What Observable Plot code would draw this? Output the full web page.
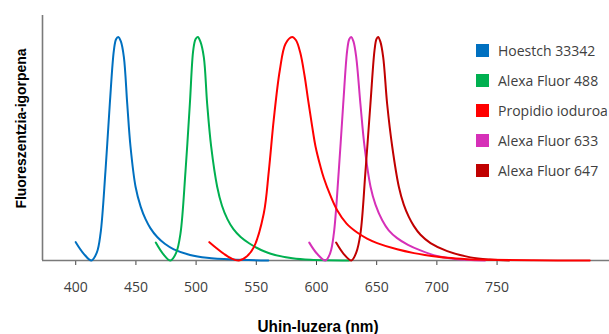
<!DOCTYPE html>
<html>
<head>
<meta charset="utf-8">
<script src="https://cdn.jsdelivr.net/npm/d3@7"></script>
<script src="https://cdn.jsdelivr.net/npm/@observablehq/plot@0.6"></script>
<style>
  html, body { margin: 0; padding: 0; background: #fff; }
  #wrap { position: relative; width: 609px; height: 334px; }
  #legend { position: absolute; left: 476px; top: 36px; font-family: "Open Sans", sans-serif; font-size: 14px; color: #404040; }
  .row { height: 29.8px; display: flex; align-items: center; white-space: nowrap; }
  .sw { width: 13px; height: 13px; margin-right: 9px; flex: none; }
</style>
</head>
<body>
<div id="wrap"><div id="legend"></div></div>
<script>
const seriesNames = ["Hoestch 33342", "Alexa Fluor 488", "Propidio ioduroa", "Alexa Fluor 633", "Alexa Fluor 647"];
const seriesColors = ["#0070C0", "#00B050", "#FF0000", "#D630B8", "#C00000"];
const xTicks = [400, 450, 500, 550, 600, 650, 700, 750];
const xDomain = [372.4, 843.4];
const xLabel = "Uhin-luzera (nm)";
const yLabel = "Fluoreszentzia-igorpena";

const hoechstWl  = [400, 406.7, 413, 417.5, 420.6, 424.7, 428.3, 431.7, 433.5, 435.3, 437.5, 440, 442.8, 445.5, 449.7, 454, 458, 462, 467.7, 474, 481.5, 495, 509, 530, 560];
const hoechstVal = [0.082, 0.03, 0, 0.035, 0.12, 0.40, 0.70, 0.94, 0.99, 1, 0.98, 0.91, 0.70, 0.51, 0.33, 0.24, 0.185, 0.145, 0.105, 0.075, 0.05, 0.025, 0.012, 0.004, 0];

const af488Wl  = [466.5, 472.5, 478.7, 483.5, 487, 491.2, 494.8, 497.6, 499.5, 501.4, 503.5, 506.4, 509.2, 512.5, 517.5, 521.5, 526, 531, 537, 544, 550.7, 562, 580, 595, 627];
const af488Val = [0.08, 0.03, 0, 0.035, 0.12, 0.40, 0.70, 0.94, 0.99, 1, 0.98, 0.91, 0.70, 0.51, 0.33, 0.245, 0.185, 0.14, 0.105, 0.077, 0.056, 0.03, 0.01, 0.003, 0];

const piWl  = [511, 517, 523, 529, 535.5, 542, 548, 556.2, 560.4, 564.5, 569.5, 574.3, 579.8, 583, 586.5, 590, 593, 596.4, 599.2, 603.3, 606, 611.6, 617.2, 625, 633.8, 642, 650.4, 667, 681, 690, 708.6, 725, 744.5, 780, 827];
const piVal = [0.082, 0.055, 0.03, 0.01, 0, 0.018, 0.06, 0.21, 0.40, 0.63, 0.85, 0.97, 1, 0.985, 0.93, 0.83, 0.72, 0.60, 0.51, 0.42, 0.37, 0.29, 0.225, 0.165, 0.125, 0.098, 0.078, 0.05, 0.033, 0.025, 0.012, 0.006, 0.003, 0.001, 0];

const af633Wl  = [594, 600.5, 607.5, 611.5, 614.4, 618.5, 622.2, 625.5, 627.2, 628.8, 630.7, 633, 636.5, 639.9, 644.9, 649, 654.6, 660, 667, 676, 686.4, 700, 715, 740];
const af633Val = [0.08, 0.03, 0, 0.035, 0.12, 0.40, 0.70, 0.94, 0.99, 1, 0.98, 0.91, 0.70, 0.51, 0.33, 0.25, 0.18, 0.135, 0.10, 0.07, 0.045, 0.02, 0.007, 0];

const af647Wl  = [616.3, 622.5, 629, 633, 636.5, 640.7, 644.8, 648.2, 649.8, 651.2, 653, 655.4, 658.7, 662.9, 668.4, 672.5, 676.7, 680.8, 686.4, 694.7, 708.6, 727.9, 744, 760];
const af647Val = [0.08, 0.03, 0, 0.035, 0.12, 0.40, 0.70, 0.94, 0.99, 1, 0.98, 0.91, 0.70, 0.51, 0.33, 0.25, 0.195, 0.155, 0.115, 0.078, 0.042, 0.014, 0.004, 0];

const seriesWl = [hoechstWl, af488Wl, piWl, af633Wl, af647Wl];
const seriesVal = [hoechstVal, af488Val, piVal, af633Val, af647Val];

// drawing order: blue, green, magenta, dark red, red on top
const drawOrder = [0, 1, 3, 4, 2];
const lines = drawOrder.map(i => {
  const data = seriesWl[i].map((w, j) => ({wl: w, v: seriesVal[i][j], s: seriesNames[i]}));
  return Plot.line(data, {x: "wl", y: "v", stroke: seriesColors[i], strokeWidth: 2, curve: "catmull-rom"});
});

const labelFont = '"Liberation Sans", Arial, sans-serif';

const chart = Plot.plot({
  width: 609,
  height: 334,
  marginLeft: 42,
  marginRight: 0,
  marginTop: 15,
  marginBottom: 74,
  style: {fontFamily: '"Open Sans", sans-serif', fontSize: "14px", color: "#404040", background: "#fff"},
  x: {domain: xDomain, ticks: xTicks, tickSize: 5, tickPadding: 17, label: null, tickFormat: d => String(d)},
  y: {domain: [0, 1.096], axis: null},
  marks: [
    Plot.ruleX([xDomain[0]], {stroke: "#7a7a7a", strokeWidth: 1.6}),
    Plot.ruleY([0], {stroke: "#7a7a7a", strokeWidth: 1.6}),
    ...lines,
    Plot.text([xLabel], {text: d => d, frameAnchor: "bottom", textAnchor: "middle", lineAnchor: "middle", dy: 66, dx: -8, fontWeight: "bold", fontSize: 16, fontFamily: labelFont, fill: "#000"}),
    Plot.text([yLabel], {text: d => d, frameAnchor: "left", textAnchor: "middle", lineAnchor: "middle", dx: -21, dy: -9.5, rotate: -90, fontWeight: "bold", fontSize: 14.5, fontFamily: labelFont, fill: "#000"})
  ]
});
document.getElementById("wrap").prepend(chart);

// fit label lengths to the reference
chart.querySelectorAll("text").forEach(t => {
  if (t.textContent === xLabel) { t.setAttribute("textLength", 121); t.setAttribute("lengthAdjust", "spacingAndGlyphs"); }
  if (t.textContent === yLabel) { t.setAttribute("textLength", 160); t.setAttribute("lengthAdjust", "spacingAndGlyphs"); }
});

const legend = document.getElementById("legend");
seriesNames.forEach((n, i) => {
  const r = document.createElement("div");
  r.className = "row";
  const s = document.createElement("span");
  s.className = "sw";
  s.style.background = seriesColors[i];
  const t = document.createElement("span");
  t.textContent = n;
  r.appendChild(s); r.appendChild(t);
  legend.appendChild(r);
});
</script>
</body>
</html>
